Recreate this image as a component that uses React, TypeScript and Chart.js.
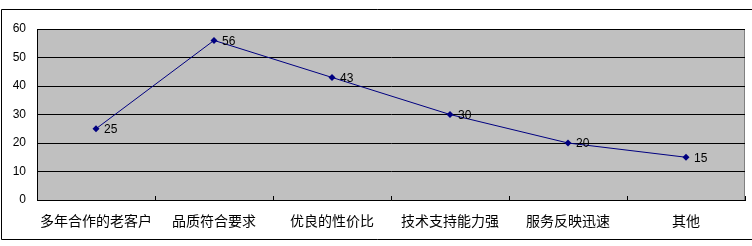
import React, { useEffect, useRef } from "react";
import { Chart, registerables } from "chart.js";

Chart.register(...registerables);

const categories = ["多年合作的老客户", "品质符合要求", "优良的性价比", "技术支持能力强", "服务反映迅速", "其他"];
const values = [25, 56, 43, 30, 20, 15];
const yTicks = [0, 10, 20, 30, 40, 50, 60];

const framePlugin = {
  id: "frame",
  beforeDraw(chart: any) {
    const { ctx, chartArea: a, width } = chart;
    ctx.save();
    ctx.fillStyle = "#ffffff";
    ctx.fillRect(0, 0, chart.width, chart.height);
    ctx.strokeStyle = "#000000";
    ctx.lineWidth = 1;
    ctx.beginPath();
    ctx.moveTo(width + 5, 9.5);
    ctx.lineTo(1.5, 9.5);
    ctx.lineTo(1.5, 239.5);
    ctx.lineTo(width + 5, 239.5);
    ctx.stroke();
    ctx.fillStyle = "#C0C0C0";
    ctx.fillRect(a.left, a.top, a.right - a.left, a.bottom - a.top);
    ctx.strokeStyle = "#808080";
    ctx.beginPath();
    ctx.moveTo(a.left, a.top + 0.5);
    ctx.lineTo(a.right - 0.5, a.top + 0.5);
    ctx.lineTo(a.right - 0.5, a.bottom);
    ctx.stroke();
    ctx.restore();
  },
  afterDraw(chart: any) {
    const { ctx, chartArea: a } = chart;
    const xs = chart.scales.x;
    ctx.save();
    ctx.strokeStyle = "#000000";
    ctx.lineWidth = 1;
    ctx.beginPath();
    for (let i = 0; i <= categories.length; i++) {
      const x = Math.round(xs.getPixelForValue(i - 0.5)) + 0.5;
      ctx.moveTo(x, a.bottom);
      ctx.lineTo(x, a.bottom - 4);
    }
    ctx.stroke();
    const meta = chart.getDatasetMeta(0);
    ctx.fillStyle = "#000000";
    ctx.font = "12px 'Liberation Sans', Arial, sans-serif";
    ctx.textAlign = "left";
    ctx.textBaseline = "middle";
    meta.data.forEach((p: any, i: number) => {
      ctx.fillText(String(values[i]), p.x + 8, p.y + 1);
    });
    ctx.restore();
  },
};

export default function App() {
  const ref = useRef<HTMLCanvasElement>(null);
  useEffect(() => {
    document.body.style.margin = "0";
    const chart = new Chart(ref.current!, {
      type: "line",
      data: {
        labels: categories,
        datasets: [
          {
            data: values,
            borderColor: "#000080",
            backgroundColor: "#000080",
            borderWidth: 1,
            pointStyle: "rectRot",
            pointRadius: 3.5,
            pointBorderWidth: 0,
            pointBackgroundColor: "#000080",
            tension: 0,
          },
        ],
      },
      options: {
        animation: false,
        responsive: false,
        maintainAspectRatio: false,
        layout: { padding: { left: 0, top: 29, right: 7, bottom: 0 } },
        plugins: { legend: { display: false }, tooltip: { enabled: false } },
        scales: {
          x: {
            offset: true,
            grid: { display: false, drawTicks: false },
            border: { display: true, color: "#000000", width: 1 },
            ticks: {
              color: "#000000",
              padding: 12,
              maxRotation: 0,
              autoSkip: false,
              font: { family: "'Noto Sans CJK SC', sans-serif", size: 14 },
            },
            afterFit: (s: any) => {
              s.height = 46;
            },
          },
          y: {
            min: 0,
            max: 60,
            grid: { color: "#000000", lineWidth: 1, drawTicks: false },
            border: { display: true, color: "#000000", width: 1 },
            afterBuildTicks: (s: any) => {
              s.ticks = yTicks.map((v) => ({ value: v }));
            },
            ticks: {
              color: "#000000",
              padding: 11,
              font: { family: "'Liberation Sans', Arial, sans-serif", size: 12 },
            },
            afterFit: (s: any) => {
              s.width = 37;
            },
          },
        },
      },
      plugins: [framePlugin],
    });
    return () => chart.destroy();
  }, []);
  return <canvas ref={ref} width={752} height={246} style={{ display: "block" }} />;
}
